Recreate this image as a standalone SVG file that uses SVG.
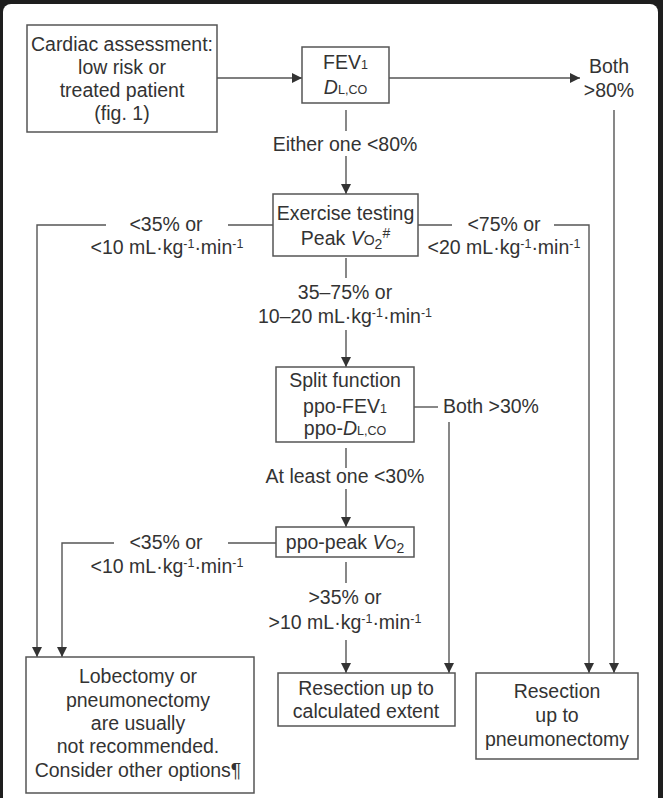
<svg xmlns="http://www.w3.org/2000/svg" width="663" height="798" viewBox="0 0 663 798">
<style>
.t{font-family:"Liberation Sans",Arial,sans-serif;font-size:19.5px;fill:#333;text-anchor:middle}
.s{font-size:12.5px}
.box{fill:#fff;stroke:#555;stroke-width:1.5}
.c{fill:none;stroke:#555;stroke-width:1.4}
.i{font-style:italic}
</style>
<defs>
<marker id="ah" markerUnits="userSpaceOnUse" markerWidth="10" markerHeight="10" refX="10" refY="5" orient="auto">
<path d="M0,0 L10,5 L0,10 z" fill="#333"/>
</marker>
</defs>
<rect width="663" height="798" fill="#1e1e1e"/>
<rect x="3" y="4" width="655" height="830" rx="8" fill="#fff"/>

<g id="connectors">
<path class="c" d="M217,78 H302" marker-end="url(#ah)"/>
<path class="c" d="M389,78 H580" marker-end="url(#ah)"/>
<path class="c" d="M614,110 V673" marker-end="url(#ah)"/>
<path class="c" d="M346,110 V131"/>
<path class="c" d="M346,156 V194" marker-end="url(#ah)"/>
<path class="c" d="M273,225 H228"/>
<path class="c" d="M106,225 H37 V657" marker-end="url(#ah)"/>
<path class="c" d="M418,225 H452"/>
<path class="c" d="M554,225 H589 V673" marker-end="url(#ah)"/>
<path class="c" d="M346,258 V278"/>
<path class="c" d="M346,330 V367" marker-end="url(#ah)"/>
<path class="c" d="M414,407 H438"/>
<path class="c" d="M449,422 V673" marker-end="url(#ah)"/>
<path class="c" d="M346,448 V468"/>
<path class="c" d="M346,489 V527" marker-end="url(#ah)"/>
<path class="c" d="M276,543 H228"/>
<path class="c" d="M114,543 H62 V657" marker-end="url(#ah)"/>
<path class="c" d="M346,562 V583"/>
<path class="c" d="M346,640 V673" marker-end="url(#ah)"/>
</g>

<g id="labels">
<text class="t" x="609" y="73">Both</text>
<text class="t" x="609" y="97">&gt;80%</text>
<text class="t" x="345" y="151">Either one &lt;80%</text>
<text class="t" x="166" y="231">&lt;35% or</text>
<text class="t" x="167" y="254">&lt;10 mL·kg<tspan class="s" dy="-6">-1</tspan><tspan dy="6">·min</tspan><tspan class="s" dy="-6">-1</tspan></text>
<text class="t" x="504" y="231">&lt;75% or</text>
<text class="t" x="504" y="254">&lt;20 mL·kg<tspan class="s" dy="-6">-1</tspan><tspan dy="6">·min</tspan><tspan class="s" dy="-6">-1</tspan></text>
<text class="t" x="345" y="299">35–75% or</text>
<text class="t" x="345" y="323">10–20 mL·kg<tspan class="s" dy="-6">-1</tspan><tspan dy="6">·min</tspan><tspan class="s" dy="-6">-1</tspan></text>
<text class="t" x="443" y="413" style="text-anchor:start">Both &gt;30%</text>
<text class="t" x="345" y="483">At least one &lt;30%</text>
<text class="t" x="166" y="549">&lt;35% or</text>
<text class="t" x="167" y="573">&lt;10 mL·kg<tspan class="s" dy="-6">-1</tspan><tspan dy="6">·min</tspan><tspan class="s" dy="-6">-1</tspan></text>
<text class="t" x="345" y="604">&gt;35% or</text>
<text class="t" x="345" y="629">&gt;10 mL·kg<tspan class="s" dy="-6">-1</tspan><tspan dy="6">·min</tspan><tspan class="s" dy="-6">-1</tspan></text>
</g>

<g id="cardiac">
<rect class="box" x="27" y="25" width="190" height="107"/>
<text class="t" x="122" y="51">Cardiac assessment:</text>
<text class="t" x="122" y="74">low risk or</text>
<text class="t" x="122" y="97">treated patient</text>
<text class="t" x="122" y="120">(fig. 1)</text>
</g>

<g id="fev1">
<rect class="box" x="302" y="47" width="87" height="56"/>
<text class="t" x="345.5" y="69">FEV<tspan class="s">1</tspan></text>
<text class="t" x="345.5" y="94"><tspan class="i">D</tspan><tspan class="s">L,CO</tspan></text>
</g>

<g id="exercise">
<rect class="box" x="273" y="194" width="145" height="62"/>
<text class="t" x="345.5" y="220">Exercise testing</text>
<text class="t" x="345.5" y="245">Peak <tspan class="i">V</tspan><tspan font-size="14">O</tspan><tspan font-size="14" dy="4">2</tspan><tspan font-size="14" dy="-11">#</tspan></text>
</g>

<g id="split">
<rect class="box" x="276" y="367" width="138" height="75"/>
<text class="t" x="345" y="387">Split function</text>
<text class="t" x="345" y="413">ppo-FEV<tspan class="s">1</tspan></text>
<text class="t" x="345" y="435">ppo-<tspan class="i">D</tspan><tspan class="s">L,CO</tspan></text>
</g>

<g id="ppopeak">
<rect class="box" x="276" y="527" width="138" height="30"/>
<text class="t" x="345" y="549">ppo-peak <tspan class="i">V</tspan><tspan font-size="14">O</tspan><tspan font-size="14" dy="4">2</tspan></text>
</g>

<g id="lobectomy">
<rect class="box" x="26" y="657" width="228" height="136"/>
<text class="t" x="138" y="683">Lobectomy or</text>
<text class="t" x="138" y="707">pneumonectomy</text>
<text class="t" x="138" y="730">are usually</text>
<text class="t" x="138" y="753">not recommended.</text>
<text class="t" x="138" y="777">Consider other options¶</text>
</g>

<g id="resection-calc">
<rect class="box" x="278" y="673" width="177" height="53"/>
<text class="t" x="366" y="695">Resection up to</text>
<text class="t" x="366" y="718">calculated extent</text>
</g>

<g id="resection-pneumo">
<rect class="box" x="476" y="673" width="162" height="86"/>
<text class="t" x="557" y="698">Resection</text>
<text class="t" x="557" y="722">up to</text>
<text class="t" x="557" y="746">pneumonectomy</text>
</g>
</svg>
